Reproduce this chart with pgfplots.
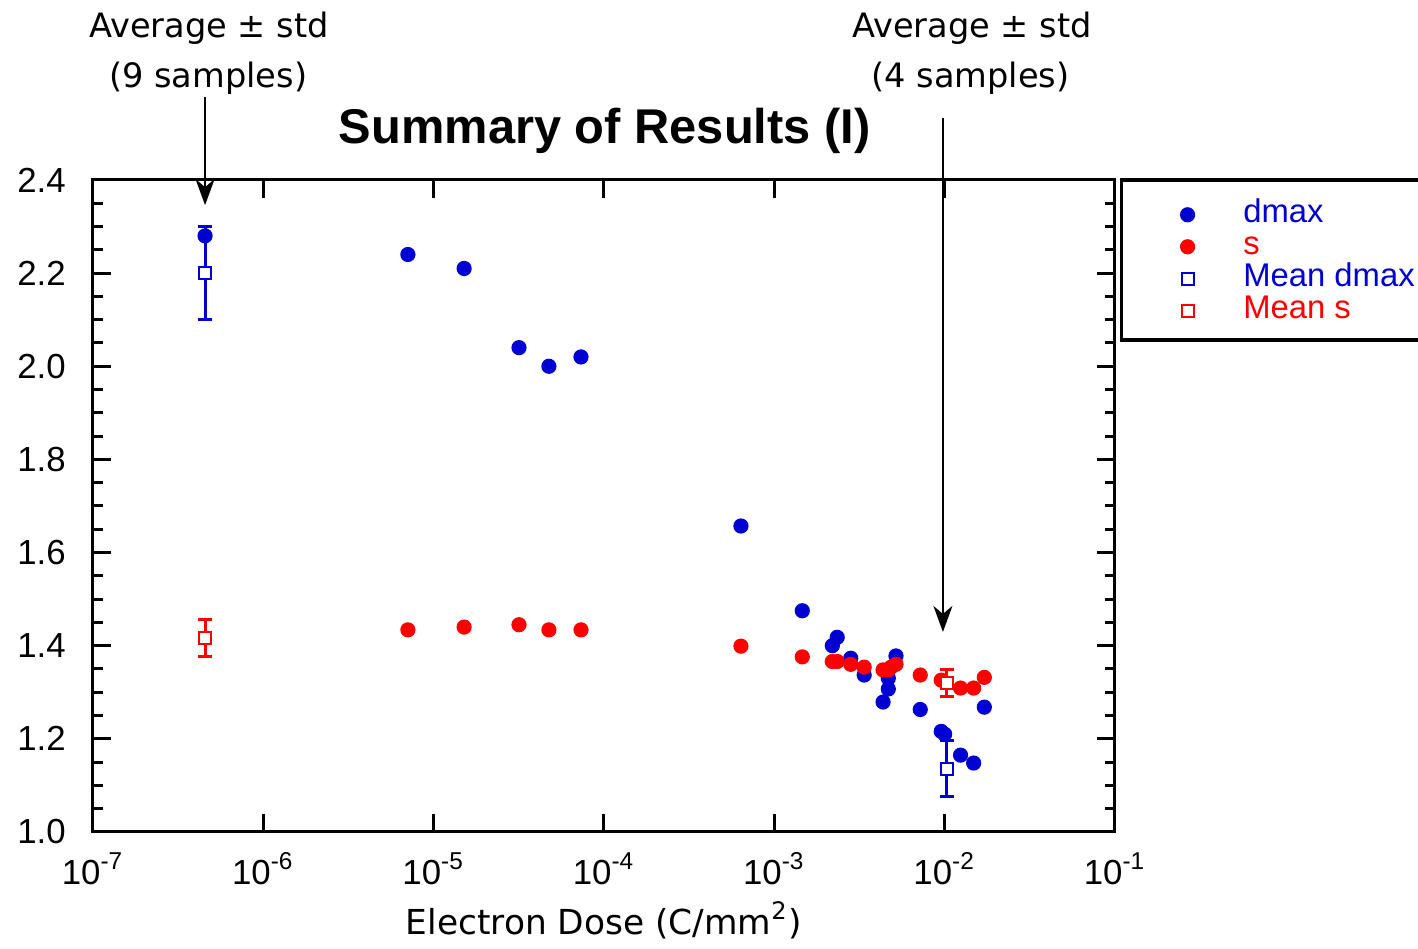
\documentclass[border=0pt]{standalone}
\usepackage{fontspec}
\setmainfont{Liberation Sans}
\newfontfamily\gen{DejaVu Sans}
\usepackage{pgfplots}
\pgfplotsset{compat=1.18}
\usetikzlibrary{arrows.meta}

\definecolor{dblue}{RGB}{0,0,210}
\definecolor{dred}{RGB}{255,0,0}

% dose (C/mm^2), value
\pgfplotstableread{
x y
4.55e-7 2.28
7.06e-6 2.24
1.51e-5 2.21
3.17e-5 2.04
4.75e-5 2.00
7.33e-5 2.02
6.37e-4 1.657
1.46e-3 1.475
2.19e-3 1.400
2.34e-3 1.418
2.81e-3 1.373
3.37e-3 1.337
4.35e-3 1.279
4.67e-3 1.330
4.67e-3 1.307
5.18e-3 1.378
7.19e-3 1.263
9.55e-3 1.216
1.00e-2 1.210
1.24e-2 1.165
1.48e-2 1.148
1.71e-2 1.268
}\dmax

\pgfplotstableread{
x y
7.06e-6 1.434
1.51e-5 1.440
3.17e-5 1.445
4.75e-5 1.434
7.33e-5 1.434
6.37e-4 1.399
1.46e-3 1.376
2.19e-3 1.366
2.34e-3 1.366
2.81e-3 1.360
3.37e-3 1.354
4.35e-3 1.348
4.67e-3 1.348
4.85e-3 1.354
5.18e-3 1.360
7.19e-3 1.337
9.55e-3 1.326
1.24e-2 1.309
1.48e-2 1.309
1.71e-2 1.332
}\sval

\pgfplotstableread{
x y e
4.55e-7 2.200 0.100
1.03e-2 1.136 0.060
}\meandmax

\pgfplotstableread{
x y e
4.55e-7 1.417 0.040
1.03e-2 1.319 0.029
}\means

\newcommand\tp[1]{10\textsuperscript{#1}}

\begin{document}
\begin{tikzpicture}
\begin{axis}[
  name=ax,
  xmode=log,
  scale only axis,
  width=255.5pt, height=163pt,
  xmin=1e-7, xmax=1e-1, ymin=1, ymax=2.4,
  clip=false,
  font=\fontsize{8.7}{10}\selectfont,
  xtick={1e-7,1e-6,1e-5,1e-4,1e-3,1e-2,1e-1},
  xticklabels={\tp{-7},\tp{-6},\tp{-5},\tp{-4},\tp{-3},\tp{-2},\tp{-1}},
  xminorticks=false,
  ytick={1,1.2,1.4,1.6,1.8,2,2.2,2.4},
  minor y tick num=3,
  /pgf/number format/assume math mode=true,
  yticklabel style={/pgf/number format/fixed, /pgf/number format/fixed zerofill,
    /pgf/number format/precision=1, xshift=-3.3pt},
  xticklabel style={yshift=-1.6pt},
  tick pos=both, tick align=inside,
  xticklabel pos=bottom, yticklabel pos=left,
  major tick length=4.5pt, minor tick length=2.5pt,
  every tick/.style={black, line width=0.75pt},
  axis line style={line width=0.75pt},
  xlabel={\gen\fontsize{8.6}{10}\selectfont Electron Dose (C/mm\textsuperscript{2})},
  xlabel style={at={(axis description cs:0.5,0)}, anchor=base, yshift=-25.75pt, inner sep=0pt},
  legend style={at={(1,1)}, anchor=north west, xshift=16.25pt, yshift=-4.5pt,
    draw=none, fill=none, inner sep=0pt, column sep=12.25pt,
    font=\fontsize{8.2}{8}\selectfont,
    nodes={inner sep=0pt, text height=6pt, text depth=2pt}},
  legend cell align=left,
]
\addplot[only marks, mark=*, mark size=1.7pt, color=dblue, fill=dblue] table {\dmax};
\addlegendentry{\textcolor{dblue}{dmax}}
\addplot[only marks, mark=*, mark size=1.7pt, color=dred, fill=dred] table {\sval};
\addlegendentry{\textcolor{dred}{s}}
\addplot[only marks, mark=square*, mark size=1.5pt, color=dblue,
  mark options={fill=white, line width=0.5pt},
  error bars/.cd, y dir=both, y explicit,
  error bar style={line width=0.75pt},
  error mark options={rotate=90, mark size=1.75pt, line width=0.75pt}]
  table[y error=e] {\meandmax};
\addlegendentry{\textcolor{dblue}{Mean dmax}}
\addplot[only marks, mark=square*, mark size=1.5pt, color=dred,
  mark options={fill=white, line width=0.5pt},
  error bars/.cd, y dir=both, y explicit,
  error bar style={line width=0.75pt},
  error mark options={rotate=90, mark size=1.75pt, line width=0.75pt}]
  table[y error=e] {\means};
\addlegendentry{\textcolor{dred}{Mean s}}

% annotations
\node[font=\bfseries\fontsize{12.2}{12}\selectfont, anchor=base] at (axis cs:1.01e-4,2.479) {Summary of Results (I)};
\node[font=\gen\fontsize{8.4}{10}\selectfont, anchor=base] at (axis cs:4.8e-7,2.707) {Average ± std};
\node[font=\gen\fontsize{8.4}{10}\selectfont, anchor=base] at (axis cs:4.75e-7,2.598) {(9 samples)};
\node[font=\gen\fontsize{8.4}{10}\selectfont, anchor=base] at (axis cs:1.445e-2,2.707) {Average ± std};
\node[font=\gen\fontsize{8.4}{10}\selectfont, anchor=base] at (axis cs:1.42e-2,2.598) {(4 samples)};
\draw[line width=0.5pt, -{Stealth[length=6.5pt,width=4.75pt,inset=2pt]}]
  (axis cs:4.55e-7,2.578) -- (axis cs:4.55e-7,2.346);
\draw[line width=0.5pt, -{Stealth[length=6.5pt,width=4.75pt,inset=2pt]}]
  (axis cs:9.77e-3,2.533) -- (axis cs:9.77e-3,1.4295);
\end{axis}
% legend frame, running past the right edge as in the source
\draw[line width=0.8pt] ([xshift=80pt]ax.north east) -- ([xshift=1.65pt]ax.north east)
  -- ([xshift=1.65pt,yshift=-40pt]ax.north east) -- ([xshift=80pt,yshift=-40pt]ax.north east);
\pgfresetboundingbox
\path ([xshift=-23.25pt,yshift=-29.25pt]ax.south west) rectangle ([xshift=75.75pt,yshift=45pt]ax.north east);
\end{tikzpicture}
\end{document}
